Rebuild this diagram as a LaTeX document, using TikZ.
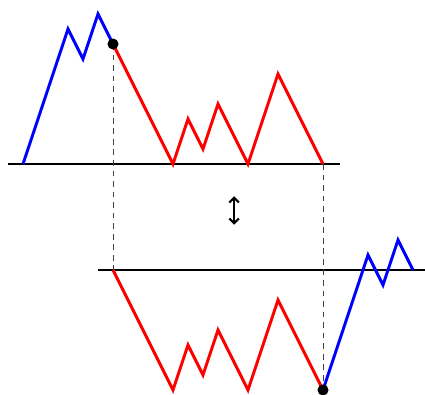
\documentclass[tikz,border=0pt]{standalone}
\usepackage{amsmath,amssymb}
\usepackage{tikz}
\usetikzlibrary{arrows.meta,positioning,calc}

\begin{document}
\begin{tikzpicture}[x=0.5cm, y=0.5cm,
    axisline/.style={black, line width=2.7pt},
    pathline/.style={line width=2.8pt, line join=miter},
    guide/.style={black!75, line width=0.8pt, dash pattern=on 5.5pt off 4.5pt},
    endpoint/.style={circle, fill=black, inner sep=0pt, minimum size=10.5pt}]
    \useasboundingbox (-1.533,-15.4) rectangle (26.8,10.933);

    % Axes
    \coordinate (top-l) at (-1,0);
    \coordinate (top-r) at (21.1,0);
    \coordinate (bot-l) at (5,-7.067);
    \coordinate (bot-r) at (26.8,-7.067);
    \draw[axisline] (top-l) -- (top-r);
    \draw[axisline] (bot-l) -- (bot-r);

    % Key points
    \coordinate (cut-a) at (6,8);
    \coordinate (cut-b) at (20,-15.067);
    \coordinate (foot-a) at (6,-7.067);
    \coordinate (foot-b) at (20,0);

    % Guides
    \draw[guide] (cut-a) -- (foot-a);
    \draw[guide] (foot-b) -- (cut-b);

    % Upper walk
    \draw[pathline, blue] (0,0) -- (3,9) -- (4,7) -- (5,10) -- (cut-a);
    \draw[pathline, red] (cut-a) -- (10,0) -- (11,3) -- (12,1) -- (13,4)
        -- (15,0) -- (17,6) -- (foot-b);

    % Lower walk
    \draw[pathline, red] (foot-a) -- (10,-15.067) -- (11,-12.067) -- (12,-14.067)
        -- (13,-11.067) -- (15,-15.067) -- (17,-9.067) -- (cut-b);
    \draw[pathline, blue] (cut-b) -- (23,-6.067) -- (24,-8.067) -- (25,-5.067)
        -- (26,-7.067);

    % Marked points
    \node[endpoint] (mark-a) at (cut-a) {};
    \node[endpoint] (mark-b) at (cut-b) {};

    % Swap arrow
    \coordinate (swap-t) at (14.07,-2.15);
    \coordinate (swap-b) at (14.07,-4.05);
    \draw[{Straight Barb[length=4.5pt,width=9pt]}-{Straight Barb[length=4.5pt,width=9pt]},
        line width=2pt] (swap-t) -- (swap-b);
\end{tikzpicture}
\end{document}
